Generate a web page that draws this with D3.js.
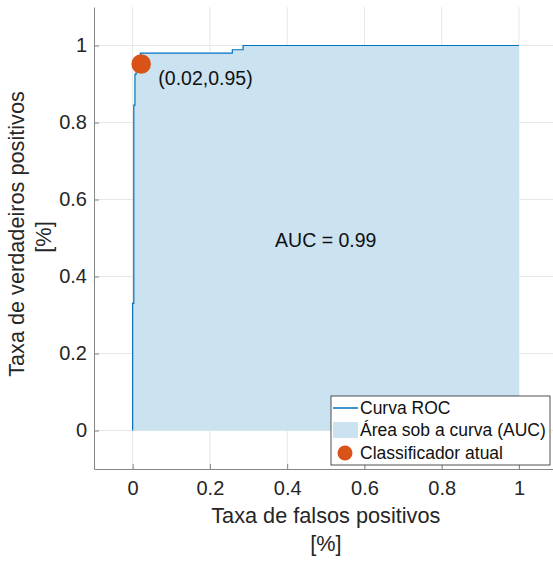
<!DOCTYPE html>
<html>
<head>
<meta charset="utf-8">
<script src="https://cdn.jsdelivr.net/npm/d3@7"></script>
<style>
  body { margin: 0; background: #fff; }
  svg { display: block; font-family: "Liberation Sans", Arial, Helvetica, sans-serif; }
  .axis path, .axis line { stroke: #868686; }
  .axis text { fill: #262626; font-size: 20px; }
</style>
</head>
<body>
<div id="roc"></div>
<script>
const width = 553;
const height = 561;
const margin = {top: 7, left: 94, bottom: 92};

// ROC curve (step points)
const fpr = [0, 0, 0.003, 0.003, 0.006, 0.006, 0.009, 0.009, 0.02, 0.02, 0.046, 0.046, 0.258, 0.258, 0.286, 0.286, 1];
const tpr = [0, 0.33, 0.33, 0.845, 0.845, 0.925, 0.925, 0.95, 0.95, 0.98, 0.98, 0.98, 0.98, 0.989, 0.989, 1, 1];
const classifier = [0.02, 0.95];
const aucValue = 0.99;
const xTicks = [0, 0.2, 0.4, 0.6, 0.8, 1];
const yTicks = [0, 0.2, 0.4, 0.6, 0.8, 1];
const legendLabels = ["Curva ROC", "Área sob a curva (AUC)", "Classificador atual"];

const lineColor = "#0072bd";
const areaColor = "#cbe2f0";
const dotColor = "#d95319";

const svg = d3.select("#roc").append("svg")
    .attr("width", width)
    .attr("height", height);

// axes span [-0.1, 1.1]; the right part runs off the canvas like the original
const x = d3.scaleLinear().domain([-0.1, 1.1]).range([margin.left, 557.6]);
const y = d3.scaleLinear().domain([-0.1, 1.1]).range([height - margin.bottom, margin.top]);

const points = fpr.map((f, i) => ({fpr: f, tpr: tpr[i]}));

//----------------------------GRID------------------------------//
svg.append("g").selectAll("line.gx")
    .data(xTicks)
    .join("line")
    .attr("x1", d => x(d)).attr("x2", d => x(d))
    .attr("y1", y(1.1)).attr("y2", y(-0.1))
    .attr("stroke", "#e7e7e7");
svg.append("g").selectAll("line.gy")
    .data(yTicks)
    .join("line")
    .attr("x1", x(-0.1)).attr("x2", x(1.1))
    .attr("y1", d => y(d)).attr("y2", d => y(d))
    .attr("stroke", "#e7e7e7");

//----------------------------AREA + LINE-----------------------//
const area = d3.area()
    .x(d => x(d.fpr))
    .y0(y(0))
    .y1(d => y(d.tpr));
svg.append("path")
    .datum(points)
    .attr("d", area)
    .attr("fill", areaColor);

const line = d3.line()
    .x(d => x(d.fpr))
    .y(d => y(d.tpr));
svg.append("path")
    .datum(points)
    .attr("d", line)
    .attr("fill", "none")
    .attr("stroke", lineColor)
    .attr("stroke-width", 1.2);

//----------------------------AXES------------------------------//
const fmt = d => (d === 0 || d === 1) ? String(d) : d.toFixed(1);
svg.append("g")
    .attr("class", "axis")
    .attr("transform", `translate(0,${y(-0.1)})`)
    .call(d3.axisBottom(x).tickValues(xTicks).tickFormat(fmt).tickSize(-5).tickPadding(12).tickSizeOuter(0));
svg.append("g")
    .attr("class", "axis")
    .attr("transform", `translate(${x(-0.1)},0)`)
    .call(d3.axisLeft(y).tickValues(yTicks).tickFormat(fmt).tickSize(-5).tickPadding(7).tickSizeOuter(0));
svg.selectAll(".axis .domain").attr("stroke", "#868686");

//----------------------------LABELS----------------------------//
const xMid = (x(-0.1) + x(1.1)) / 2;
const yMid = (y(-0.1) + y(1.1)) / 2;
const labelSize = 21.7;
svg.append("text").attr("x", xMid).attr("y", 523)
    .attr("text-anchor", "middle").attr("font-size", labelSize).attr("fill", "#262626")
    .text("Taxa de falsos positivos");
svg.append("text").attr("x", xMid).attr("y", 551)
    .attr("text-anchor", "middle").attr("font-size", labelSize).attr("fill", "#262626")
    .text("[%]");
svg.append("text").attr("transform", `translate(24,${yMid - 4}) rotate(-90)`)
    .attr("text-anchor", "middle").attr("font-size", labelSize).attr("fill", "#262626")
    .text("Taxa de verdadeiros positivos");
svg.append("text").attr("transform", `translate(51,${yMid - 1}) rotate(-90)`)
    .attr("text-anchor", "middle").attr("font-size", labelSize).attr("fill", "#262626")
    .text("[%]");

svg.append("text")
    .attr("x", x(0.5)).attr("y", y(0.5) + 2)
    .attr("dy", "0.35em")
    .attr("text-anchor", "middle").attr("font-size", 19.5).attr("fill", "#111")
    .text("AUC = " + aucValue);

//----------------------------CLASSIFIER------------------------//
svg.append("circle")
    .attr("cx", x(classifier[0]) + 0.8).attr("cy", y(classifier[1]) - 0.8)
    .attr("r", 9.8)
    .attr("fill", dotColor);
svg.append("text")
    .attr("x", x(classifier[0]) + 18).attr("y", y(classifier[1]) + 13.5)
    .attr("dy", "0.35em")
    .attr("font-size", 19.5).attr("fill", "#111")
    .text(`(${classifier[0]},${classifier[1]})`);

//----------------------------LEGEND----------------------------//
const legend = svg.append("g").attr("transform", "translate(331,396)");
legend.append("rect")
    .attr("width", 219).attr("height", 69)
    .attr("fill", "#fff").attr("stroke", "#262626").attr("stroke-width", 0.8);
const rowY = [12, 34, 57];
legend.append("line")
    .attr("x1", 2).attr("x2", 27).attr("y1", rowY[0]).attr("y2", rowY[0])
    .attr("stroke", lineColor).attr("stroke-width", 1.5);
legend.append("rect")
    .attr("x", 2).attr("y", rowY[1] - 8).attr("width", 25).attr("height", 16)
    .attr("fill", areaColor);
legend.append("circle")
    .attr("cx", 14).attr("cy", rowY[2]).attr("r", 7.5)
    .attr("fill", dotColor);
legend.selectAll("text.lab")
    .data(legendLabels)
    .join("text")
    .attr("x", 29).attr("y", (d, i) => rowY[i])
    .attr("dy", "0.35em")
    .attr("font-size", 17.5).attr("fill", "#111")
    .text(d => d);
</script>
</body>
</html>
